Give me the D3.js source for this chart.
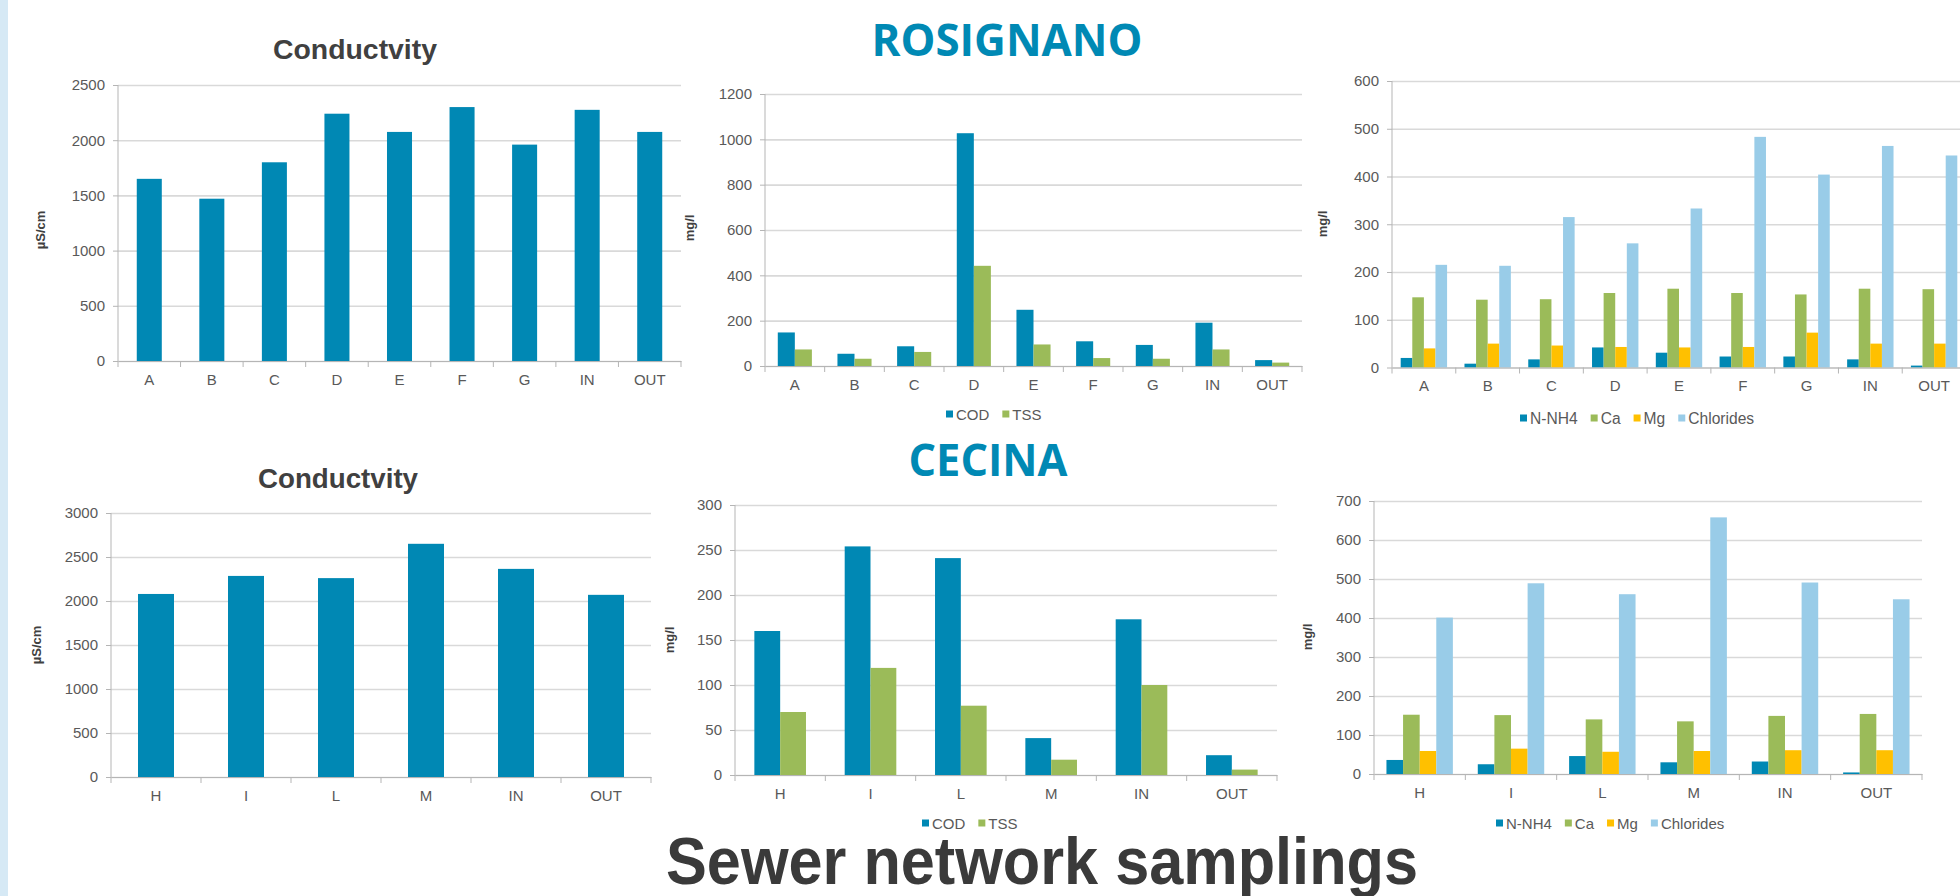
<!DOCTYPE html>
<html>
<head>
<meta charset="utf-8">
<script src="https://cdn.jsdelivr.net/npm/d3@7"></script>
<style>
  html, body { margin: 0; padding: 0; background: #ffffff; }
  svg { display: block; font-family: "Liberation Sans", Arial, sans-serif; }
</style>
</head>
<body>
<svg id="chart" width="1960" height="896"></svg>
<script>
// ---------------- DATA ----------------
const rosCats = ["A", "B", "C", "D", "E", "F", "G", "IN", "OUT"];
const rosCond = [1650, 1470, 1800, 2240, 2075, 2300, 1960, 2275, 2075];
const rosCOD  = [148, 54, 87, 1027, 248, 109, 93, 191, 26];
const rosTSS  = [73, 32, 62, 442, 95, 35, 32, 73, 15];
const rosNH4  = [20, 8, 17, 42, 31, 23, 23, 17, 4];
const rosCa   = [147, 142, 143, 156, 165, 156, 153, 165, 164];
const rosMg   = [40, 50, 46, 43, 42, 43, 73, 50, 50];
const rosCl   = [215, 213, 315, 260, 333, 483, 404, 464, 444];

const cecCats = ["H", "I", "L", "M", "IN", "OUT"];
const cecCond = [2080, 2285, 2260, 2650, 2365, 2070];
const cecCOD  = [160, 254, 241, 41, 173, 22];
const cecTSS  = [70, 119, 77, 17, 100, 6];
const cecNH4  = [36, 25, 46, 30, 32, 4];
const cecCa   = [152, 151, 140, 135, 149, 154];
const cecMg   = [59, 65, 57, 59, 61, 61];
const cecCl   = [401, 489, 461, 658, 491, 448];

const rosCondTicks = [0, 500, 1000, 1500, 2000, 2500];
const rosCodTicks  = [0, 200, 400, 600, 800, 1000, 1200];
const rosIonTicks  = [0, 100, 200, 300, 400, 500, 600];
const cecCondTicks = [0, 500, 1000, 1500, 2000, 2500, 3000];
const cecCodTicks  = [0, 50, 100, 150, 200, 250, 300];
const cecIonTicks  = [0, 100, 200, 300, 400, 500, 600, 700];

const seriesCodTss = ["COD", "TSS"];
const seriesIons = ["N-NH4", "Ca", "Mg", "Chlorides"];

// ---------------- STYLE ----------------
const COL = { blue: "#0088b4", green: "#9bbb59", yellow: "#ffc000", light: "#99cce8" };

const svg = d3.select("#chart");
svg.append("rect").attr("width", 1960).attr("height", 896).attr("fill", "#ffffff");
svg.append("rect").attr("x", 0).attr("y", 0).attr("width", 8).attr("height", 896).attr("fill", "#d6e9f5");

function barChart(o) {
  const g = svg.append("g");
  const x = d3.scaleBand().domain(o.cats).range([o.x0, o.x1]);
  const y = d3.scaleLinear().domain([0, o.max]).range([o.y0, o.y1]);
  const n = o.series.length;
  const bw = x.bandwidth() / (n + 1.5);
  const xs = d3.scaleBand().domain(o.series.map(s => s.name))
    .range([(x.bandwidth() - n * bw) / 2, (x.bandwidth() + n * bw) / 2]);

  // gridlines
  g.append("g").attr("transform", `translate(${o.x0},0)`)
    .call(d3.axisLeft(y).tickValues(o.ticks).tickSize(-(o.x1 - o.x0)).tickFormat(""))
    .call(a => { a.select(".domain").remove();
      a.selectAll("line").attr("stroke", "#d9d9d9").attr("stroke-width", 1.6); });

  // bars
  o.series.forEach(s => {
    g.append("g").selectAll("rect")
      .data(o.cats.map((c, i) => ({ c, v: s.values[i] })))
      .join("rect")
      .attr("x", d => x(d.c) + xs(s.name))
      .attr("width", xs.bandwidth())
      .attr("y", d => y(d.v))
      .attr("height", d => y(0) - y(d.v))
      .attr("fill", s.color);
  });

  // y axis
  g.append("g").attr("transform", `translate(${o.x0},0)`)
    .call(d3.axisLeft(y).tickValues(o.ticks).tickSize(5).tickPadding(8).tickFormat(d3.format("d")))
    .call(a => {
      a.select(".domain").attr("stroke", "#b5b5b5").attr("d", `M0,${o.y0}V${o.y1}`);
      a.selectAll("line").attr("stroke", "#b5b5b5");
      a.selectAll("text").attr("fill", "#595959").style("font-size", "15px");
    });

  // x axis
  g.append("g").attr("transform", `translate(0,${o.y0})`)
    .call(d3.axisBottom(x).tickSize(0).tickPadding(13))
    .call(a => {
      a.select(".domain").attr("stroke", "#b5b5b5");
      a.selectAll("text").attr("fill", "#595959").style("font-size", "15px");
    });
  const bounds = o.cats.map(c => x(c)).concat([x(o.cats[o.cats.length - 1]) + x.bandwidth()]);
  g.append("g").selectAll("line").data(bounds).join("line")
    .attr("x1", d => d).attr("x2", d => d)
    .attr("y1", o.y0).attr("y2", o.y0 + 6)
    .attr("stroke", "#b5b5b5");

  // y label
  g.append("text")
    .attr("transform", `translate(${o.ylx},${o.yly}) rotate(-90)`)
    .attr("text-anchor", "middle").attr("dominant-baseline", "central")
    .attr("fill", "#404040").style("font-size", "13px").style("font-weight", "bold")
    .text(o.ylabel);

  // legend
  if (o.legend) {
    let cx = o.legend.x;
    const fs = o.legend.fs || 15;
    o.series.forEach(s => {
      g.append("rect").attr("x", cx).attr("y", o.legend.y - 3.5).attr("width", 7).attr("height", 7).attr("fill", s.color);
      const t = g.append("text").attr("x", cx + 10).attr("y", o.legend.y)
        .attr("dominant-baseline", "central").attr("fill", "#595959").style("font-size", fs + "px").text(s.name);
      cx += 10 + t.node().getComputedTextLength() + 13;
    });
  }
}

function title(txt, x, y, size, color, family, len) {
  const t = svg.append("text").attr("x", x).attr("y", y).attr("text-anchor", "middle")
    .attr("fill", color).style("font-size", size + "px").style("font-weight", "bold")
    .style("font-family", family).text(txt);
  if (len) t.attr("textLength", len).attr("lengthAdjust", "spacingAndGlyphs");
}

// ---------------- CHARTS ----------------
barChart({ cats: rosCats, max: 2500, ticks: rosCondTicks, x0: 118, x1: 681, y0: 361, y1: 85,
  series: [{ name: "Conductivity", values: rosCond, color: COL.blue }],
  ylabel: "µS/cm", ylx: 40, yly: 230 });

barChart({ cats: rosCats, max: 1200, ticks: rosCodTicks, x0: 765, x1: 1302, y0: 366, y1: 94,
  series: [{ name: seriesCodTss[0], values: rosCOD, color: COL.blue },
           { name: seriesCodTss[1], values: rosTSS, color: COL.green }],
  ylabel: "mg/l", ylx: 689, yly: 228, legend: { x: 946, y: 414 } });

barChart({ cats: rosCats, max: 600, ticks: rosIonTicks, x0: 1392, x1: 1966, y0: 367.5, y1: 81,
  series: [{ name: seriesIons[0], values: rosNH4, color: COL.blue },
           { name: seriesIons[1], values: rosCa, color: COL.green },
           { name: seriesIons[2], values: rosMg, color: COL.yellow },
           { name: seriesIons[3], values: rosCl, color: COL.light }],
  ylabel: "mg/l", ylx: 1322, yly: 224, legend: { x: 1520, y: 418, fs: 15.6 } });

barChart({ cats: cecCats, max: 3000, ticks: cecCondTicks, x0: 111, x1: 651, y0: 777, y1: 513,
  series: [{ name: "Conductivity", values: cecCond, color: COL.blue }],
  ylabel: "µS/cm", ylx: 36, yly: 645 });

barChart({ cats: cecCats, max: 300, ticks: cecCodTicks, x0: 735, x1: 1277, y0: 775, y1: 505,
  series: [{ name: seriesCodTss[0], values: cecCOD, color: COL.blue },
           { name: seriesCodTss[1], values: cecTSS, color: COL.green }],
  ylabel: "mg/l", ylx: 669, yly: 640, legend: { x: 922, y: 823 } });

barChart({ cats: cecCats, max: 700, ticks: cecIonTicks, x0: 1374, x1: 1922, y0: 774, y1: 501,
  series: [{ name: seriesIons[0], values: cecNH4, color: COL.blue },
           { name: seriesIons[1], values: cecCa, color: COL.green },
           { name: seriesIons[2], values: cecMg, color: COL.yellow },
           { name: seriesIons[3], values: cecCl, color: COL.light }],
  ylabel: "mg/l", ylx: 1307, yly: 637, legend: { x: 1496, y: 823 } });

// ---------------- TITLES ----------------
title("Conductvity", 355, 59, 28, "#404040", "'Liberation Sans', Arial, sans-serif", 164);
title("Conductvity", 338, 488, 28, "#404040", "'Liberation Sans', Arial, sans-serif", 160);
title("ROSIGNANO", 1007, 56, 44, "#0089b4", "'Open Sans', 'Noto Sans', sans-serif", 271);
title("CECINA", 988, 476, 44, "#0089b4", "'Open Sans', 'Noto Sans', sans-serif", 159);
title("Sewer network samplings", 1042, 884, 67, "#3a3a3a", "'Liberation Sans', Arial, sans-serif", 752);
</script>
</body>
</html>
